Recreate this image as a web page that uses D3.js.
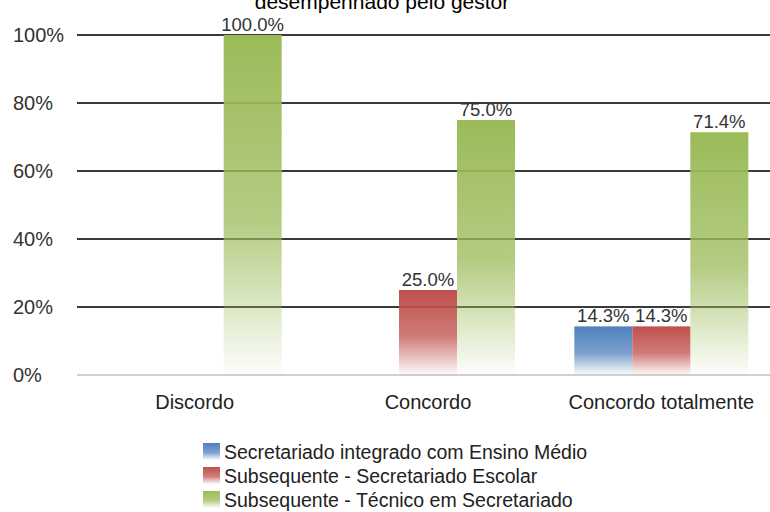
<!DOCTYPE html><html><head><meta charset="UTF-8"><script src="https://d3js.org/d3.v7.min.js"></script><style>
body { margin: 0; background: #fff; }
text { font-family: "Liberation Sans", Arial, sans-serif; }
</style></head><body><div id="chart"></div><script>
const categories = ["Discordo", "Concordo", "Concordo totalmente"];
const seriesNames = ["Secretariado integrado com Ensino Médio", "Subsequente - Secretariado Escolar", "Subsequente - Técnico em Secretariado"];
const integrado = [null, null, 14.3];
const escolar = [null, 25.0, 14.3];
const tecnico = [100.0, 75.0, 71.4];
const yTicks = [0, 20, 40, 60, 80, 100];
const colors = ["#4f81bd", "#c0504d", "#9bbb59"];

const W = 770, H = 512;
const svg = d3.select('#chart').append('svg').attr('width', W).attr('height', H);

const x = d3.scaleBand().domain(categories).range([78, 778]);
const xs = d3.scaleBand().domain([0, 1, 2]).range([0, 174]);
const y = d3.scaleLinear().domain([0, 100]).range([375, 35]);

const defs = svg.append('defs');
colors.forEach((c, i) => {
  const g = defs.append('linearGradient').attr('id', 'grad' + i)
    .attr('x1', 0).attr('y1', 0).attr('x2', 0).attr('y2', 1);
  g.append('stop').attr('offset', 0).attr('stop-color', c).attr('stop-opacity', 1);
  g.append('stop').attr('offset', 0.55).attr('stop-color', c).attr('stop-opacity', 0.75);
  g.append('stop').attr('offset', 1).attr('stop-color', c).attr('stop-opacity', 0.02);
});

svg.append('text').attr('x', 382).attr('y', 9).attr('text-anchor', 'middle')
  .attr('font-size', 21).attr('fill', '#000').text('desempenhado pelo gestor');

// grid
svg.selectAll('.grid').data(yTicks).enter().append('line')
  .attr('x1', 77).attr('x2', W)
  .attr('y1', d => y(d)).attr('y2', d => y(d))
  .attr('stroke', d => d === 0 ? '#d0d0d0' : '#3a3a3a')
  .attr('stroke-width', 2);

svg.selectAll('.ytick').data(yTicks).enter().append('text')
  .attr('x', 13).attr('y', d => y(d) + 7)
  .attr('font-size', 20).attr('fill', '#333')
  .text(d => d + '%');

const series = [integrado, escolar, tecnico];
series.forEach((vals, si) => {
  const data = categories.map((c, ci) => ({c, v: vals[ci]})).filter(d => d.v != null);
  const g = svg.append('g');
  g.selectAll('rect').data(data).enter().append('rect')
    .attr('x', d => x(d.c) + (x.bandwidth() - 174) / 2 + xs(si))
    .attr('width', xs.bandwidth())
    .attr('y', d => y(d.v))
    .attr('height', d => y(0) - y(d.v))
    .attr('fill', 'url(#grad' + si + ')');
  g.selectAll('text').data(data).enter().append('text')
    .attr('x', d => x(d.c) + (x.bandwidth() - 174) / 2 + xs(si) + xs.bandwidth() / 2)
    .attr('y', d => y(d.v) - 4)
    .attr('text-anchor', 'middle').attr('font-size', 18.5).attr('fill', '#333')
    .text(d => d.v.toFixed(1) + '%');
});

svg.selectAll('.xtick').data(categories).enter().append('text')
  .attr('x', d => x(d) + x.bandwidth() / 2).attr('y', 409)
  .attr('text-anchor', 'middle').attr('font-size', 20).attr('fill', '#222')
  .text(d => d);

const leg = svg.append('g').attr('transform', 'translate(203,444)');
seriesNames.forEach((n, i) => {
  leg.append('rect').attr('x', 0).attr('y', i * 24 - 1).attr('width', 17).attr('height', 17)
    .attr('fill', 'url(#grad' + i + ')');
  leg.append('text').attr('x', 21).attr('y', i * 24 + 15).attr('font-size', 19.5).attr('fill', '#222').text(n);
});
</script></body></html>
